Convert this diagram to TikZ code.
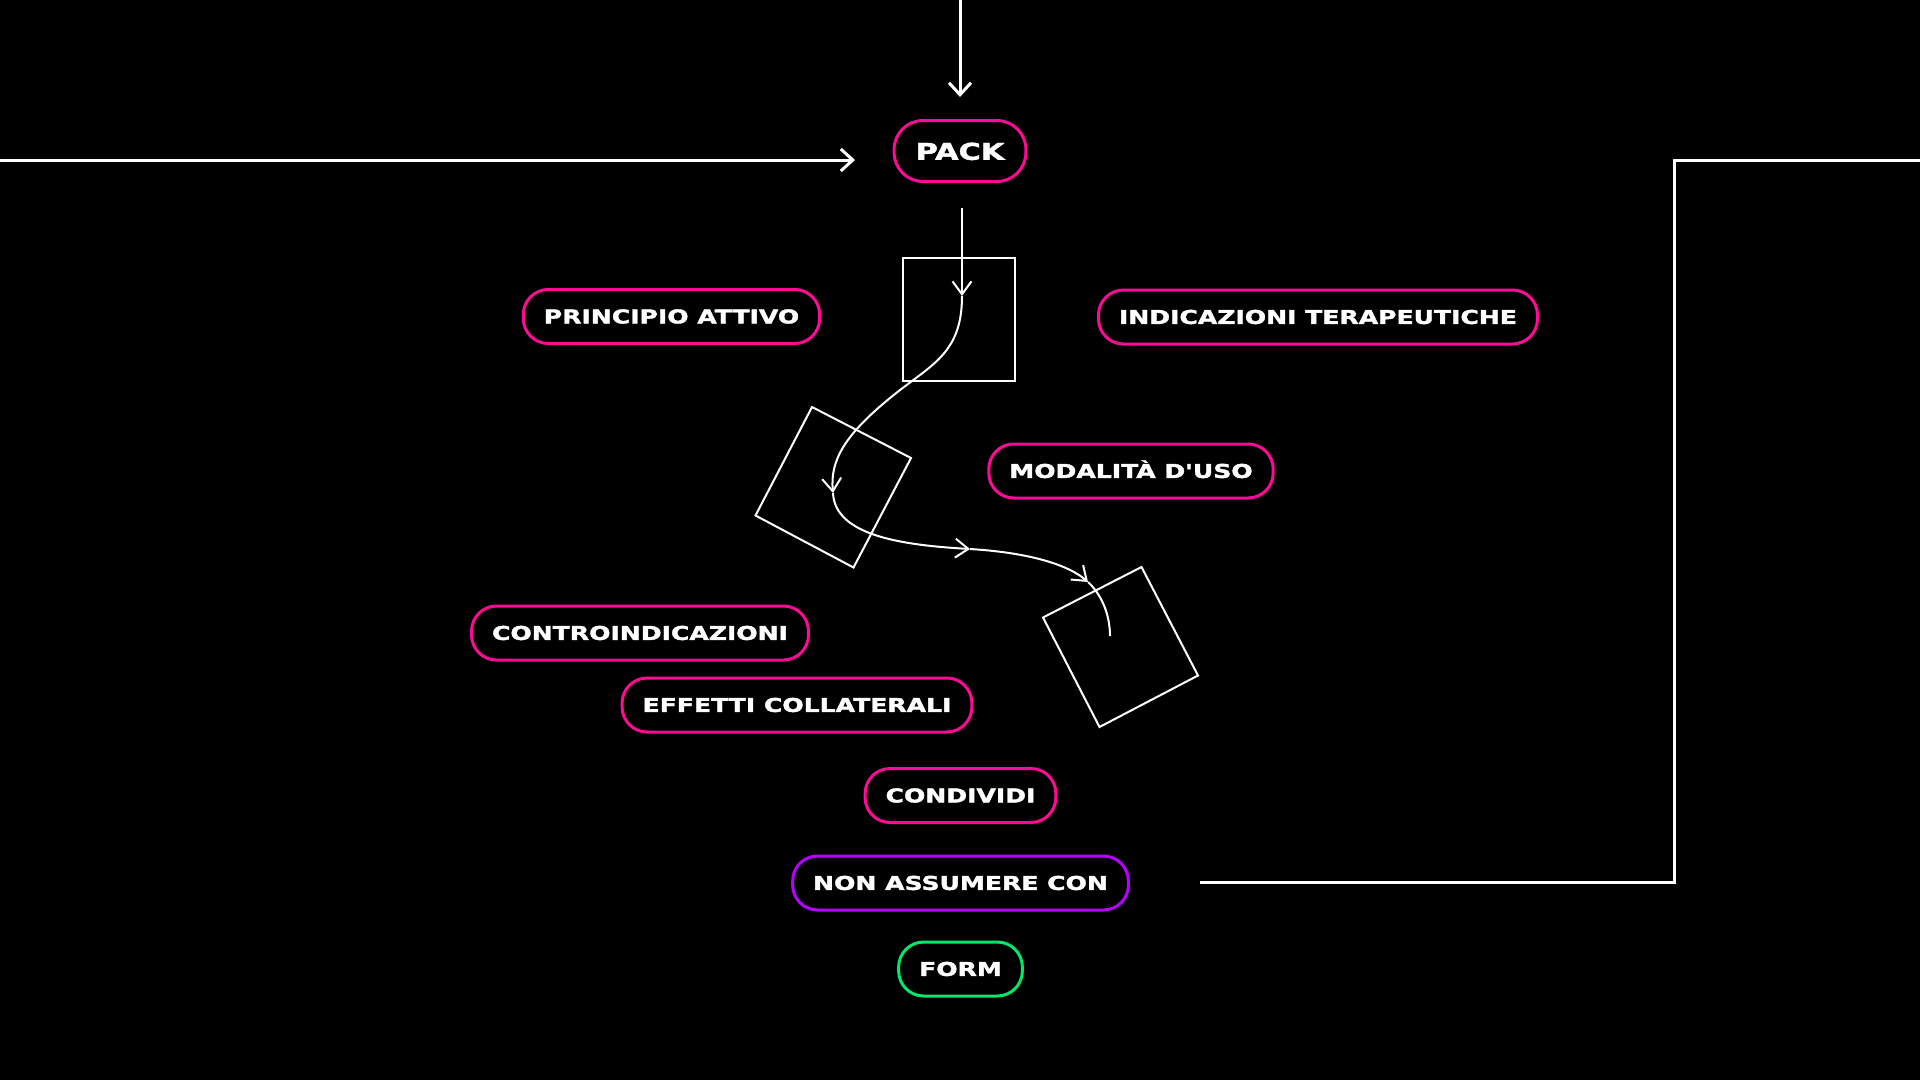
\documentclass[tikz,border=0pt]{standalone}
\usepackage{fontspec}
\newfontfamily\labelfont{DejaVu Sans}[FakeStretch=1.32, BoldFeatures={FakeBold=2}]
\usetikzlibrary{arrows.meta}
\definecolor{pillpink}{RGB}{255,10,150}
\definecolor{pillviolet}{RGB}{182,0,255}
\definecolor{pillgreen}{RGB}{0,232,105}

\begin{document}
\begin{tikzpicture}[x=1pt, y=-1pt,
  every node/.style = {shape=rectangle, rounded corners=25pt,
    draw=pillpink, line width=3pt, align=center, text=white,
    font=\labelfont\bfseries\fontsize{19}{21}\selectfont,
    inner xsep=20.5pt, inner ysep=0pt, minimum height=54pt,
    text height=13.8pt, text depth=0pt},
  wire/.style = {white, line width=3pt},
  wirebarb/.style = {-{Straight Barb[length=12pt, width=22pt]}},
  sketch/.style = {white, line width=2pt},
  sketchbarb/.style = {-{Straight Barb[length=13pt, width=19pt]}}]
  \path[use as bounding box, fill=black] (0,0) rectangle (1920,1080);

  \node (pack) at (960,151) [minimum height=61pt, rounded corners=29pt,
    inner xsep=21.5pt, text height=17.5pt,
    font=\labelfont\bfseries\fontsize{23}{25}\selectfont] {PACK};
  \node (principio) at (671.5,316.5) {PRINCIPIO ATTIVO};
  \node (indicazioni) at (1318,317) {INDICAZIONI TERAPEUTICHE};
  \node (modalita) at (1131,471) {MODALITÀ D'USO};
  \node (controindicazioni) at (640,633) {CONTROINDICAZIONI};
  \node (effetti) at (797,705) {EFFETTI COLLATERALI};
  \node (condividi) at (960.5,795.5) {CONDIVIDI};
  \node[draw=pillviolet] (nonassumere) at (960.5,883) {NON ASSUMERE CON};
  \node[draw=pillgreen] (form) at (960.5,969) {FORM};

  \coordinate (topin) at (960,0);
  \coordinate (topend) at (960,97);
  \coordinate (leftin) at (0,160);
  \coordinate (leftend) at (855,160);
  \coordinate (rightin) at (1920,160);
  \coordinate (rightend) at (1200,882);
  \draw[wire, wirebarb] (topin) -- (topend);
  \draw[wire, wirebarb] (leftin) -- (leftend);
  \draw[wire] (rightin) -- (1674,160) -- (1674,882) -- (rightend);

  \draw[sketch] (903,258) rectangle (1015,381);
  \draw[sketch] (812,407) -- (911,458) -- (853.5,567.5) -- (755.5,515.5) -- cycle;
  \draw[sketch] (1141.5,567) -- (1198,675.5) -- (1099.5,727) -- (1043,617.5) -- cycle;

  \coordinate (flow0) at (962,208);
  \coordinate (flow1) at (962,296);
  \coordinate (flow2) at (833,493);
  \coordinate (flow3) at (970,549);
  \coordinate (flow4) at (1088,582);
  \coordinate (flow5) at (1110,636);
  \draw[sketch, sketchbarb] (flow0) -- (flow1);
  \draw[sketch, sketchbarb] (flow1) .. controls (962,355) and (930,365) .. (890,398)
    .. controls (845,435) and (830,460) .. (flow2);
  \draw[sketch, sketchbarb] (flow2) .. controls (835,535) and (900,545) .. (flow3);
  \draw[sketch, sketchbarb] (flow3) .. controls (1020,552) and (1065,562) .. (flow4);
  \draw[sketch] (flow4) .. controls (1105,598) and (1110,620) .. (flow5);
\end{tikzpicture}
\end{document}
